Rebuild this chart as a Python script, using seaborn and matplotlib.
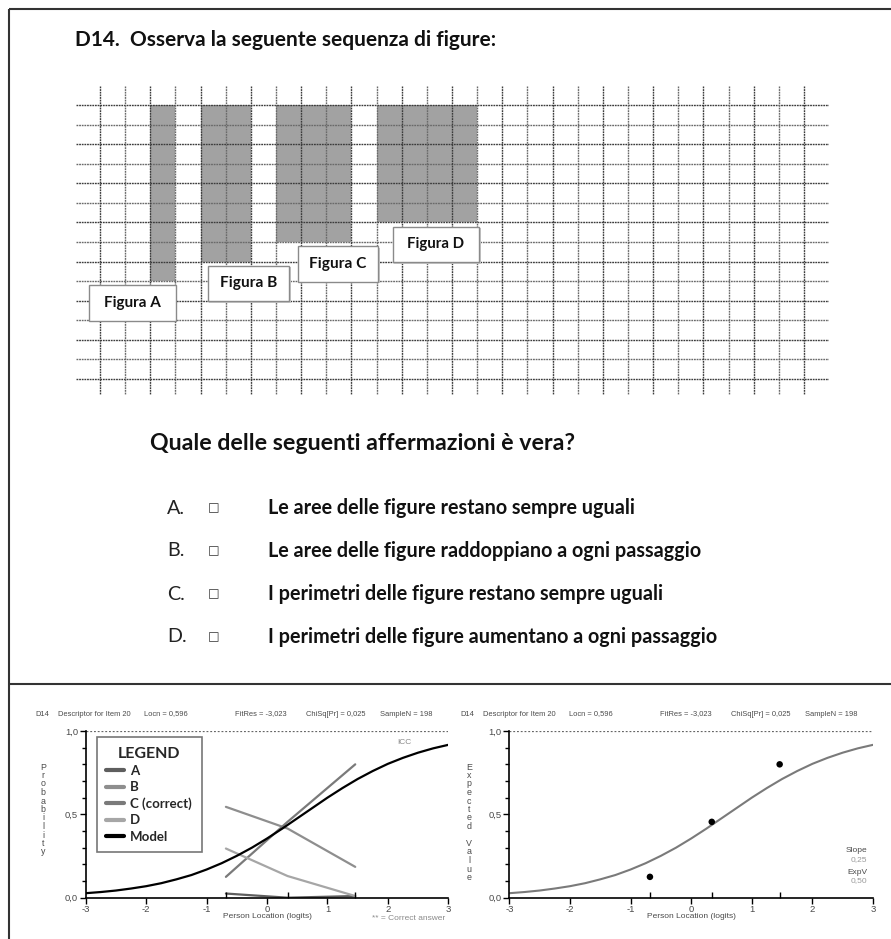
import numpy as np
import pandas as pd
import matplotlib
matplotlib.use("Agg")
import matplotlib.pyplot as plt
from matplotlib.patches import Rectangle
from matplotlib.lines import Line2D
import seaborn as sns

sns.set_theme(style="white")
plt.rcParams['font.family'] = ['Lato', 'DejaVu Sans']

W, H = 891, 939

# ---------------- item text ----------------
title = "D14.  Osserva la seguente sequenza di figure:"
question = "Quale delle seguenti affermazioni è vera?"
option_letters = ["A.", "B.", "C.", "D."]
option_texts = [
    "Le aree delle figure restano sempre uguali",
    "Le aree delle figure raddoppiano a ogni passaggio",
    "I perimetri delle figure restano sempre uguali",
    "I perimetri delle figure aumentano a ogni passaggio",
]

# ---------------- the four rectangles (in grid squares) ----------------
figure_names = ["Figura A", "Figura B", "Figura C", "Figura D"]
figure_widths = [1, 2, 3, 4]
figure_heights = [9, 8, 7, 6]
grid_cols = 28
grid_rows = 14

# ---------------- item analysis ----------------
class_locations = [-0.68, 0.34, 1.46]
obs_A = [0.025, 0.0, 0.01]
obs_B = [0.545, 0.415, 0.185]
obs_C = [0.125, 0.455, 0.80]
obs_D = [0.295, 0.13, 0.01]
option_keys = ["A", "B", "C (correct)", "D"]

icc_theta = [-3.0, -2.75, -2.5, -2.25, -2.0, -1.75, -1.5, -1.25, -1.0, -0.75,
             -0.5, -0.25, 0.0, 0.25, 0.5, 0.75, 1.0, 1.25, 1.5, 1.75,
             2.0, 2.25, 2.5, 2.75, 3.0]
icc_value = [0.027, 0.034, 0.043, 0.055, 0.069, 0.087, 0.110, 0.136, 0.169, 0.207,
             0.251, 0.300, 0.355, 0.414, 0.476, 0.538, 0.600, 0.658, 0.712, 0.760,
             0.803, 0.839, 0.870, 0.896, 0.917]

x_ticks = [-3, -2, -1, 0, 1, 2, 3]
y_ticks = [0.0, 0.5, 1.0]
y_ticklabels = ["0,0", "0,5", "1,0"]

fig = plt.figure(figsize=(W / 100, H / 100), dpi=100)
fig.patch.set_facecolor("white")
renderer = fig.canvas.get_renderer()


def px_axes(x0, y0, x1, y1):
    return fig.add_axes([x0 / W, 1 - y1 / H, (x1 - x0) / W, (y1 - y0) / H])


# overlay in pixel units for frames and free text
ov = fig.add_axes([0, 0, 1, 1])
ov.set_xlim(0, W)
ov.set_ylim(H, 0)
ov.axis("off")


def fit_text(x, y, s, target_w, size0=12, **kw):
    t = ov.text(x, y, s, fontsize=size0, **kw)
    bb = t.get_window_extent(renderer=renderer)
    t.set_fontsize(size0 * target_w / bb.width)
    return t


frame_kw = dict(color="#333333", lw=1.5, solid_capstyle="butt")
ov.plot([8.5, 8.5], [8.5, H], **frame_kw)
ov.plot([8.5, W], [8.5, 8.5], **frame_kw)
ov.plot([8.5, W], [684, 684], **frame_kw)

# ---------------- question text ----------------
fit_text(75, 40, title, 419, weight="bold", va="center", color="#111111")
fit_text(150, 443, question, 422, weight="bold", va="center", color="#111111")
opt_t = fit_text(268, 551, option_texts[1], 429, weight="bold", va="center", color="#111111")
opt_size = opt_t.get_fontsize()
row_y = [508, 551, 594, 637]
for i, (letter, txt) in enumerate(zip(option_letters, option_texts)):
    if i != 1:
        ov.text(268, row_y[i], txt, fontsize=opt_size, weight="bold", va="center", color="#111111")
    ov.text(167, row_y[i], letter, fontsize=opt_size, va="center", color="#222222")
    ov.text(214, row_y[i], "\u25a1", fontsize=opt_size * 0.62, va="center", ha="center",
            family=["DejaVu Sans"], color="#333333")

# ---------------- squared paper with the rectangles ----------------
cw, ch = 25.14, 19.57
gx0, gy0 = 100, 105
axg = px_axes(76, 86, 829, 395)
axg.set_xlim((76 - gx0) / cw, (829 - gx0) / cw)
axg.set_ylim((395 - gy0) / ch, (86 - gy0) / ch)
axg.axis("off")
axg.patch.set_alpha(0)

gap = 1
starts = []
c = 2
for w in figure_widths:
    starts.append(c)
    c += w + gap
axg.bar(starts, figure_heights, width=figure_widths, bottom=0, align="edge",
        color="#a2a2a2", linewidth=0, zorder=1)

xl, xr = axg.get_xlim()
yb, yt = axg.get_ylim()
for r in range(grid_rows + 1):
    axg.hlines(r, xl, xr, color="#3c3c3c" if r % 2 == 0 else "#6a6a6a",
               lw=1.0, linestyles=(0, (1.3, 0.6)), zorder=2)
for cc in range(grid_cols + 1):
    axg.vlines(cc, yt, yb, color="#3c3c3c" if cc % 2 == 0 else "#6a6a6a",
               lw=1.0, linestyles=(0, (1.3, 0.6)), zorder=2)

box_left = [-0.44, 4.28, 7.88, 11.65]
box_w = [3.46, 3.24, 3.18, 3.43]
box_h = 1.8
for name, h, bl, bw in zip(figure_names, figure_heights, box_left, box_w):
    top = h + 0.22
    axg.add_patch(Rectangle((bl + 0.06, top + 0.08), bw, box_h, facecolor="#c8c8c8",
                            edgecolor="none", zorder=3))
    axg.add_patch(Rectangle((bl, top), bw, box_h, facecolor="white",
                            edgecolor="#8a8a8a", lw=1.0, zorder=4))
    t = axg.text(bl + bw / 2, top + box_h / 2, name, ha="center", va="center",
                 weight="bold", fontsize=10, color="#111111", zorder=5)
    bb = t.get_window_extent(renderer=renderer)
    t.set_fontsize(10 * 57 / bb.width)

# ---------------- item analysis panels ----------------
small = dict(family=["Liberation Sans", "DejaVu Sans"], color="#4a4a4a")
fs_small = 6.0
fs_head = 5.4


def style_panel(ax):
    ax.set_xlim(-3, 3)
    ax.set_ylim(0, 1)
    ax.patch.set_alpha(0)
    for s in ["top", "right"]:
        ax.spines[s].set_visible(False)
    for s in ["left", "bottom"]:
        ax.spines[s].set_color("black")
        ax.spines[s].set_linewidth(1.2)
    ax.set_xticks(x_ticks)
    ax.set_xticklabels([str(v) for v in x_ticks])
    ax.set_yticks(y_ticks)
    ax.set_yticklabels(y_ticklabels)
    ax.set_yticks(np.arange(0.1, 1.0, 0.1), minor=True)
    ax.tick_params(axis="both", which="major", direction="out", length=4, width=1,
                   color="black", left=True, bottom=True, pad=1.5)
    ax.tick_params(axis="y", which="minor", direction="out", length=3, width=1,
                   color="black", left=True)
    for lab in ax.get_xticklabels() + ax.get_yticklabels():
        lab.set_fontsize(6.8)
        lab.set_family(["Liberation Sans", "DejaVu Sans"])
        lab.set_color("#4a4a4a")
    ax.set_xlabel("")
    ax.set_ylabel("")
    ax.axhline(1.0, color="#666666", lw=0.9, ls=(0, (1.5, 1.5)))
    ax.vlines(class_locations, 0, 0.035, color="black", lw=1.0, clip_on=False)
    ax.grid(False)


option_colors = {"A": "#5e5e5e", "B": "#8e8e8e", "C (correct)": "#7a7a7a", "D": "#a6a6a6"}
obs = pd.DataFrame({
    "location": class_locations * 4,
    "proportion": obs_A + obs_B + obs_C + obs_D,
    "option": [k for k in option_keys for _ in class_locations],
})
icc_df = pd.DataFrame({"location": icc_theta, "probability": icc_value})

axl = px_axes(85.7, 731, 448.3, 897.7)
sns.lineplot(data=obs, x="location", y="proportion", hue="option", palette=option_colors,
             ax=axl, legend=False, lw=1.6, errorbar=None)
sns.lineplot(data=icc_df, x="location", y="probability", ax=axl, color="black", lw=1.6)
style_panel(axl)
axl.text(2.28, 0.93, "ICC", fontsize=fs_small, ha="center", va="center",
         family=["Liberation Sans", "DejaVu Sans"], color="#8a8a8a")

handles = [Line2D([], [], color=option_colors[k], lw=3) for k in option_keys]
handles.append(Line2D([], [], color="black", lw=3))
leg = axl.legend(handles, option_keys + ["Model"], title="LEGEND", loc="upper left",
                 bbox_to_anchor=(0.03, 0.965), borderaxespad=0, frameon=True,
                 fancybox=False, edgecolor="#777777", framealpha=1,
                 prop=dict(family="Lato", weight="bold", size=9.5),
                 title_fontproperties=dict(family="Lato", weight="bold", size=11.5),
                 handlelength=1.3, handletextpad=0.5, labelspacing=0.32,
                 borderpad=0.75)
leg.get_frame().set_linewidth(1.2)

axr = px_axes(509.3, 731, 873, 897.7)
sns.lineplot(data=icc_df, x="location", y="probability", ax=axr, color="#7a7a7a", lw=1.5)
sns.scatterplot(x=class_locations, y=obs_C, ax=axr, color="black", s=22,
                edgecolor="none", zorder=5)
style_panel(axr)

# headers and axis titles
for x0 in (0, 425):
    ov.text(35 + x0, 714, "D14", fontsize=fs_head, va="center", **small)
    ov.text(58 + x0, 714, "Descriptor for Item 20", fontsize=fs_head, va="center", **small)
    ov.text(144 + x0, 714, "Locn = 0,596", fontsize=fs_head, va="center", **small)
    ov.text(235 + x0, 714, "FitRes = -3,023", fontsize=fs_head, va="center", **small)
    ov.text(306 + x0, 714, "ChiSq[Pr] = 0,025", fontsize=fs_head, va="center", **small)
    ov.text(380 + x0, 714, "SampleN = 198", fontsize=fs_head, va="center", **small)

ov.text(267, 917, "Person Location (logits)", fontsize=fs_small, ha="center", va="center", **small)
ov.text(691, 917, "Person Location (logits)", fontsize=fs_small, ha="center", va="center", **small)
ov.text(445, 919, "** = Correct answer", fontsize=fs_small, ha="right", va="center",
        family=["Liberation Sans", "DejaVu Sans"], color="#8a8a8a")


def stacked(x, y, word):
    for i, ch_ in enumerate(word):
        if ch_ != " ":
            ov.text(x, y + i * 8.5, ch_, fontsize=6.4, ha="center", va="center", **small)


stacked(43, 767, "Probability")
stacked(469, 767, "Expected Value")

ov.text(867, 850, "Slope", fontsize=fs_small, ha="right", va="center", **small)
ov.text(867, 860, "0,25", fontsize=fs_small, ha="right", va="center",
        family=["Liberation Sans", "DejaVu Sans"], color="#9a9a9a")
ov.text(867, 872, "ExpV", fontsize=fs_small, ha="right", va="center", **small)
ov.text(867, 881, "0,50", fontsize=fs_small, ha="right", va="center",
        family=["Liberation Sans", "DejaVu Sans"], color="#9a9a9a")

fig.savefig("out.png", dpi=100, facecolor="white")
